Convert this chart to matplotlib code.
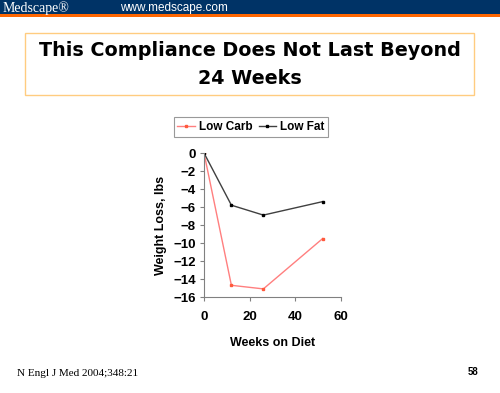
import numpy as np
import matplotlib.pyplot as plt
from matplotlib.patches import Rectangle

# data
weeks = [0, 12, 26, 52]
low_carb = [0, -14.7, -15.1, -9.5]
low_fat = [0, -5.8, -6.9, -5.4]
yticks = [0, -2, -4, -6, -8, -10, -12, -14, -16]
xticks = [0, 20, 40, 60]

W, H = 500, 393
fig = plt.figure( figsize=(5.0, 3.93), dpi=100 )
fig.patch.set_facecolor( 'white' )

# header bar
fig.patches.append( Rectangle( (0, 1 - 14/H), 1, 14/H, transform=fig.transFigure,
                               facecolor='#003366', edgecolor='none' ) )
fig.patches.append( Rectangle( (0, 1 - 17/H), 1, 3/H, transform=fig.transFigure,
                               facecolor='#ff6600', edgecolor='none' ) )
fig.text( 3/W, 1 - 8/H, "Medscape\u00ae", color='white', fontsize=10,
          family='Liberation Serif', va='center', ha='left' )
fig.text( 120/W, 1 - 8/H, "www.medscape.com", color='white', fontsize=8.5,
          family='Liberation Sans', va='center', ha='left' )

# title box
fig.patches.append( Rectangle( (25/W, 1 - 95/H), 449/W, 62/H, transform=fig.transFigure,
                               facecolor='white', edgecolor='#ffcc80', linewidth=1 ) )
fig.text( 0.5, 1 - 65/H, "This Compliance Does Not Last Beyond\n24 Weeks",
          fontsize=13.8, fontweight='bold', ha='center', va='center',
          linespacing=1.6, family='DejaVu Sans' )

# footer
fig.text( 17/W, 1 - 373/H, "N Engl J Med 2004;348:21", fontsize=8,
          family='Liberation Serif', va='center', ha='left' )
fig.text( 478/W, 1 - 372/H, "58", fontsize=7, fontweight='bold',
          family='Liberation Sans', va='center', ha='right' )

# chart
ax = fig.add_axes( [204/W, 1 - 297/H, 137/W, 144/H] )
ax.plot( weeks, low_carb, '-', color='#ff7f7f', marker='s', markersize=2,
         markerfacecolor='#ff5a3c', markeredgecolor='#ff5a3c', linewidth=1,
         label='Low Carb' )
ax.plot( weeks, low_fat, '-', color='#404040', marker='s', markersize=2,
         markerfacecolor='black', markeredgecolor='black', linewidth=1,
         label='Low Fat' )

ax.set_xlim( 0, 60 )
ax.set_ylim( -16, 0 )
ax.set_xticks( xticks )
ax.set_yticks( yticks )
for s in ['top', 'right']:
    ax.spines[s].set_visible( False )
for s in ['left', 'bottom']:
    ax.spines[s].set_color( '#808080' )
    ax.spines[s].set_linewidth( 0.8 )
ax.tick_params( direction='out', length=3, width=0.8, color='#808080',
                labelsize=9.5 )
ax.tick_params( axis='x', pad=7 )
ax.tick_params( axis='y', pad=3 )
for lab in ax.get_xticklabels() + ax.get_yticklabels():
    lab.set_fontweight( 'bold' )
    lab.set_family( 'Liberation Sans' )
ax.set_xlabel( "Weeks on Diet", fontsize=9, fontweight='bold',
               family='Liberation Sans', labelpad=10 )
ax.set_ylabel( "Weight Loss, lbs", fontsize=9, fontweight='bold',
               family='Liberation Sans', labelpad=4 )

leg = fig.legend( loc='center', bbox_to_anchor=(251/W, 1 - 127/H), ncol=2,
                  frameon=True, fancybox=False, handlelength=1.5,
                  handletextpad=0.35, columnspacing=0.5, borderpad=0.3,
                  prop={'family': 'Liberation Sans', 'weight': 'bold', 'size': 8.5} )
leg.get_frame().set_edgecolor( '#808080' )
leg.get_frame().set_linewidth( 0.8 )

fig.savefig( 'out.png', dpi=100 )
